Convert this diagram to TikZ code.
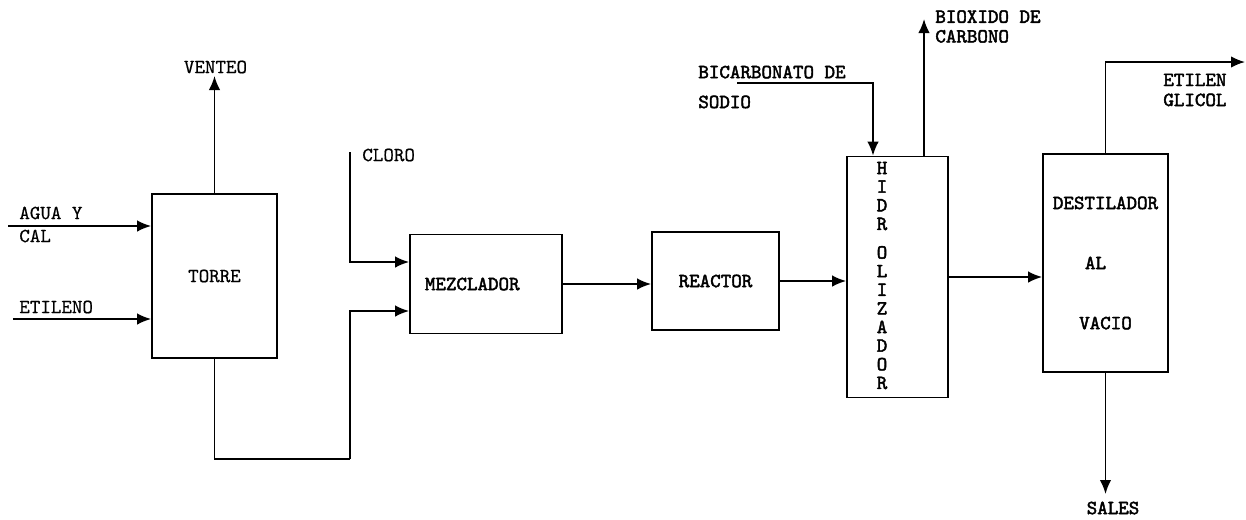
\documentclass[tikz,border=0pt]{standalone}
\usepackage{fontspec}
\newfontfamily\twr{lmmono10-regular.otf}[FakeBold=0.5]
\newfontfamily\twb{lmmono10-regular.otf}[FakeBold=2.2]
\usepackage{tikz}
\usetikzlibrary{arrows.meta, positioning, calc}
\newcommand\lbl{\twr\fontsize{11.4}{13.7}\selectfont}
\newcommand\lblb{\twb\fontsize{11.4}{13.7}\selectfont}

\begin{document}
\begin{tikzpicture}[
    unit/.style={rectangle, draw, line width=1pt, align=center, font=\lbl, inner sep=0pt},
    txt/.style={font=\lbl, inner sep=0pt, align=left},
    txtb/.style={font=\lblb, inner sep=0pt, align=left},
    flow/.style={-{Latex[length=2.8mm, width=2.3mm]}, line width=1pt},
    line/.style={line width=1pt}
  ]
    \useasboundingbox (0,0) rectangle (24.92,-10.38);

    % Process units
    \node[unit, minimum width=2.5cm, minimum height=3.28cm] at (4.29, -5.52) (torre) {TORRE};
    \node[unit, minimum width=3.04cm, minimum height=1.98cm, font=\lblb] at (9.72, -5.68) (mezc) {\hspace*{-0.55cm}MEZCLADOR};
    \node[unit, minimum width=2.54cm, minimum height=1.96cm, font=\lblb] at (14.31, -5.62) (reactor) {REACTOR};
    \node[unit, minimum width=2.02cm, minimum height=4.82cm] at (17.95, -5.54) (hidro) {};
    \node[txtb, align=center, font=\twb\fontsize{11.4}{10.6}\selectfont] at ($(hidro.center)+(-0.31,0.03)$) (hidrotxt)
      {H\\I\\D\\R\\[0.2cm]O\\L\\I\\Z\\A\\D\\O\\R};
    \node[unit, minimum width=2.5cm, minimum height=4.36cm, font=\lblb] at (22.11, -5.26) (dest)
      {DESTILADOR\\[0.72cm]\hspace*{-0.4cm}AL\\[0.72cm]VACIO};

    % Feeds and products
    \coordinate (agua) at (0.16, -4.52);
    \coordinate (etileno) at (0.26, -6.38);
    \coordinate (venteo) at (4.29, -1.52);
    \coordinate (cloro) at (7.0, -3.04);
    \coordinate (retorno) at (7.0, -9.18);
    \coordinate (bicarb) at (14.74, -1.66);
    \coordinate (co2) at (18.48, -0.38);
    \coordinate (glicol) at (24.9, -1.24);
    \coordinate (sales) at (22.16, -9.88);

    % Labels
    \node[txt, anchor=west] at (0.38, -4.49) (aguatxt) {AGUA Y\\[-0.6pt]CAL};
    \node[txt, anchor=west] at (0.38, -6.14) (etilenotxt) {ETILENO};
    \node[txt] at (4.31, -1.34) (venteotxt) {VENTEO};
    \node[txt, anchor=west] at (7.24, -3.1) (clorotxt) {CLORO};
    \node[txtb, anchor=west] at (13.96, -1.74) (bicarbtxt) {BICARBONATO DE\\[3.3pt]SODIO};
    \node[txtb, anchor=west] at (18.7, -0.53) (co2txt) {BIOXIDO DE\\[-2.5pt]CARBONO};
    \node[txtb, anchor=west] at (23.26, -1.8) (glicoltxt) {ETILEN\\[-2.3pt]GLICOL};
    \node[txtb] at (22.26, -10.16) (salestxt) {SALES};

    % Streams
    \draw[flow] (agua) -- (agua -| torre.west);
    \draw[flow] (etileno) -- (etileno -| torre.west);
    \draw[flow] (torre.north) -- (venteo);
    \draw[line] (torre.south) |- (retorno);
    \draw[flow] (retorno) |- ($(mezc.west)+(0,-0.54)$);
    \draw[flow] (cloro) |- ($(mezc.west)+(0,0.44)$);
    \draw[flow] (mezc.east) -- (mezc.east -| reactor.west);
    \draw[flow] (reactor.east) -- (reactor.east -| hidro.west);
    \draw[flow] (bicarb) -| ($(hidro.north)+(-0.49,0)$);
    \draw[flow] (hidro.north -| co2) -- (co2);
    \draw[flow] (hidro.east) -- (hidro.east -| dest.west);
    \draw[flow] (dest.north) |- (glicol);
    \draw[flow] (dest.south) -- (dest.south |- sales);
\end{tikzpicture}
\end{document}
